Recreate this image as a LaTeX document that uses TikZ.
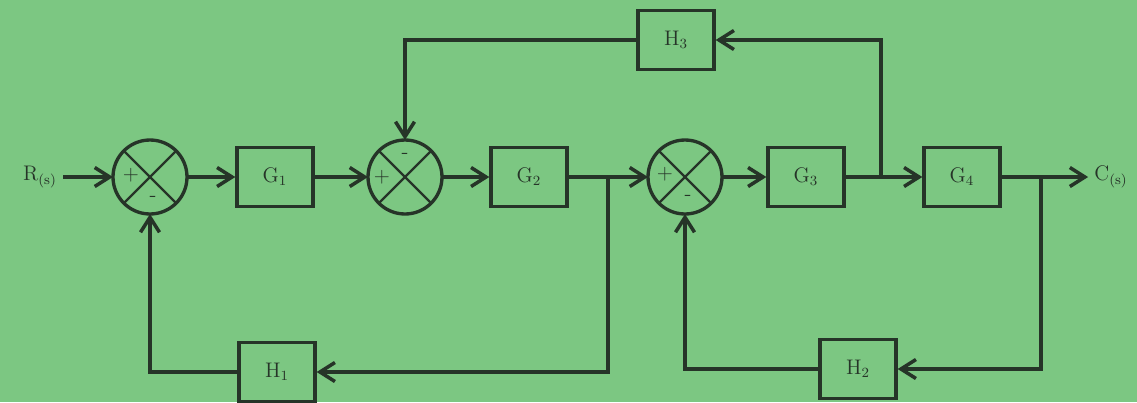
\documentclass[tikz,border=0pt]{standalone}
\usetikzlibrary{arrows.meta}

\definecolor{paper}{RGB}{124,199,130}
\definecolor{ink}{RGB}{38,52,40}

\tikzset{
  block/.style={draw=ink, line width=1.9pt, minimum width=1.52cm, minimum height=1.18cm, font=\large, text=ink},
  sumnode/.style={draw=ink, line width=1.9pt, circle, minimum size=1.48cm, inner sep=0pt, outer sep=0pt},
  sign/.style={font=\large, text=ink, inner sep=0pt},
  wire/.style={draw=ink, line width=2pt}
}

\begin{document}
\begin{tikzpicture}[>={Straight Barb[length=3mm, width=3.8mm]}]
    \useasboundingbox[fill=paper] (0,0) rectangle (22.74,8.04);

    % ===== Forward path =====
    \def\yM{4.5}
    \node[text=ink, font=\large] (rs) at (0.8, \yM) {$\mathrm{R}_{(\mathrm{s})}$};
    \node[sumnode] (s1) at (3.0, \yM) {};
    \node[block] (g1) at (5.5, \yM) {$\mathrm{G}_1$};
    \node[sumnode] (s2) at (8.1, \yM) {};
    \node[block] (g2) at (10.58, \yM) {$\mathrm{G}_2$};
    \node[sumnode] (s3) at (13.7, \yM) {};
    \node[block] (g3) at (16.12, \yM) {$\mathrm{G}_3$};
    \node[block] (g4) at (19.24, \yM) {$\mathrm{G}_4$};
    \node[text=ink, font=\large] (cs) at (22.22, \yM) {$\mathrm{C}_{(\mathrm{s})}$};

    % crosses in the summing points
    \foreach \s in {s1,s2,s3}
        \draw[ink, line width=1.3pt] (\s.north west) -- (\s.south east) (\s.north east) -- (\s.south west);

    \node[sign] at ([xshift=-0.38cm, yshift=0.03cm]s1.center) {$+$};
    \node[sign] at ([xshift=0.06cm, yshift=-0.44cm]s1.center) {-};
    \node[sign] at ([xshift=-0.46cm]s2.center) {$+$};
    \node[sign] at ([yshift=0.42cm]s2.center) {-};
    \node[sign] at ([xshift=-0.4cm, yshift=0.06cm]s3.center) {$+$};
    \node[sign] at ([xshift=0.06cm, yshift=-0.42cm]s3.center) {-};

    % ===== Feedback blocks =====
    \node[block] (h3) at (13.52, 7.24) {$\mathrm{H}_3$};
    \node[block] (h1) at (5.54, 0.6) {$\mathrm{H}_1$};
    \node[block] (h2) at (17.16, 0.66) {$\mathrm{H}_2$};

    \coordinate (b2) at (12.16, \yM);
    \coordinate (b3) at (17.62, \yM);
    \coordinate (b4) at (20.82, \yM);

    % ===== Connectors =====
    \draw[wire, ->] (rs) -- (s1);
    \draw[wire, ->] (s1) -- (g1);
    \draw[wire, ->] (g1) -- (s2);
    \draw[wire, ->] (s2) -- (g2);
    \draw[wire, ->] (g2) -- (s3);
    \draw[wire, ->] (s3) -- (g3);
    \draw[wire, ->] (g3) -- (g4);
    \draw[wire, ->] (g4) -- (cs);

    \draw[wire, ->] (b3) |- (h3.east);
    \draw[wire, ->] (h3.west) -| (s2.north);
    \draw[wire, ->] (b2) |- (h1.east);
    \draw[wire, ->] (h1.west) -| (s1.south);
    \draw[wire, ->] (b4) |- (h2.east);
    \draw[wire, ->] (h2.west) -| (s3.south);
\end{tikzpicture}
\end{document}
